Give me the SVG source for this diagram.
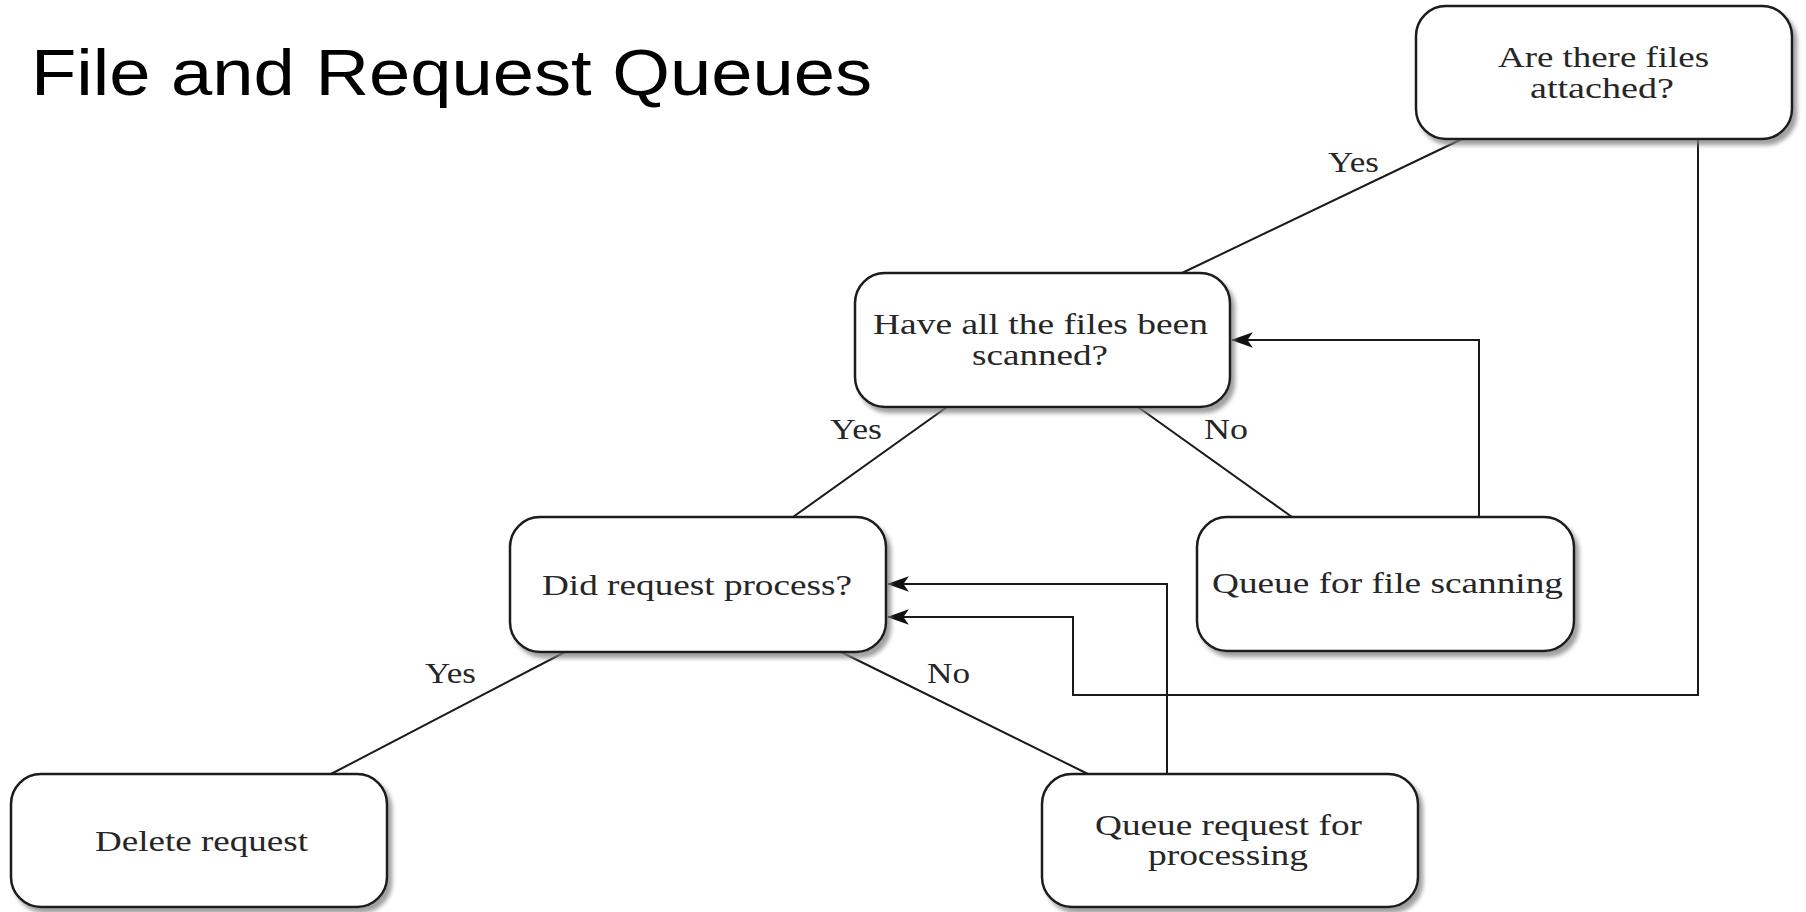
<svg xmlns="http://www.w3.org/2000/svg" width="1806" height="912" viewBox="0 0 1806 912">
<defs>
<filter id="sh" x="-10%" y="-10%" width="125%" height="130%">
<feDropShadow dx="4" dy="5" stdDeviation="2" flood-color="#808080" flood-opacity="0.75"/>
</filter>
<marker id="arr" viewBox="0 0 20 14" refX="19" refY="7" markerWidth="22" markerHeight="16" markerUnits="userSpaceOnUse" orient="auto">
<path d="M20,7 L0,0 L5,7 L0,14 z" fill="#111"/>
</marker>
<style>
.node rect{fill:#fff;stroke:#1a1a1a;stroke-width:2.5;filter:url(#sh)}
.node text,.lbl{font-family:"Liberation Serif","Times New Roman",serif;font-size:29px;fill:#262626}
.conn{fill:none;stroke:#1a1a1a;stroke-width:2}
.title{font-family:"Liberation Sans",Arial,sans-serif;font-size:64px;fill:#000}
</style>
</defs>
<rect width="1806" height="912" fill="#fff"/>
<text class="title" x="31" y="95" textLength="841" lengthAdjust="spacingAndGlyphs">File and Request Queues</text>

<g id="connectors">
<line class="conn" x1="1462" y1="139" x2="1182" y2="273"/>
<line class="conn" x1="947" y1="407" x2="793" y2="517"/>
<line class="conn" x1="1138" y1="407" x2="1292" y2="517"/>
<line class="conn" x1="565" y1="652" x2="331" y2="774"/>
<line class="conn" x1="841" y1="652" x2="1088" y2="774"/>
<polyline class="conn" points="1479,517 1479,340 1232,340" marker-end="url(#arr)"/>
<polyline class="conn" points="1167,774 1167,584 888,584" marker-end="url(#arr)"/>
<polyline class="conn" points="1698,139 1698,695 1073,695 1073,617 888,617" marker-end="url(#arr)"/>
<text class="lbl" x="1328" y="172" textLength="51" lengthAdjust="spacingAndGlyphs">Yes</text>
<text class="lbl" x="830" y="439" textLength="52" lengthAdjust="spacingAndGlyphs">Yes</text>
<text class="lbl" x="1204" y="439" textLength="44" lengthAdjust="spacingAndGlyphs">No</text>
<text class="lbl" x="425" y="683" textLength="51" lengthAdjust="spacingAndGlyphs">Yes</text>
<text class="lbl" x="927" y="683" textLength="43" lengthAdjust="spacingAndGlyphs">No</text>
</g>

<g id="node-files-attached" class="node">
<rect x="1416" y="6" width="376" height="133" rx="30" ry="30"/>
<text x="1498" y="67" textLength="211" lengthAdjust="spacingAndGlyphs">Are there files</text>
<text x="1530" y="98" textLength="144" lengthAdjust="spacingAndGlyphs">attached?</text>
</g>
<g id="node-files-scanned" class="node">
<rect x="855" y="273" width="375" height="134" rx="30" ry="30"/>
<text x="873" y="334" textLength="335" lengthAdjust="spacingAndGlyphs">Have all the files been</text>
<text x="972" y="365" textLength="136" lengthAdjust="spacingAndGlyphs">scanned?</text>
</g>
<g id="node-request-process" class="node">
<rect x="510" y="517" width="376" height="135" rx="30" ry="30"/>
<text x="542" y="595" textLength="310" lengthAdjust="spacingAndGlyphs">Did request process?</text>
</g>
<g id="node-file-scanning" class="node">
<rect x="1197" y="517" width="377" height="134" rx="30" ry="30"/>
<text x="1212" y="593" textLength="351" lengthAdjust="spacingAndGlyphs">Queue for file scanning</text>
</g>
<g id="node-delete" class="node">
<rect x="11" y="774" width="376" height="133" rx="30" ry="30"/>
<text x="95" y="851" textLength="213" lengthAdjust="spacingAndGlyphs">Delete request</text>
</g>
<g id="node-queue-processing" class="node">
<rect x="1042" y="774" width="376" height="133" rx="30" ry="30"/>
<text x="1095" y="835" textLength="267" lengthAdjust="spacingAndGlyphs">Queue request for</text>
<text x="1148" y="865" textLength="160" lengthAdjust="spacingAndGlyphs">processing</text>
</g>
</svg>
